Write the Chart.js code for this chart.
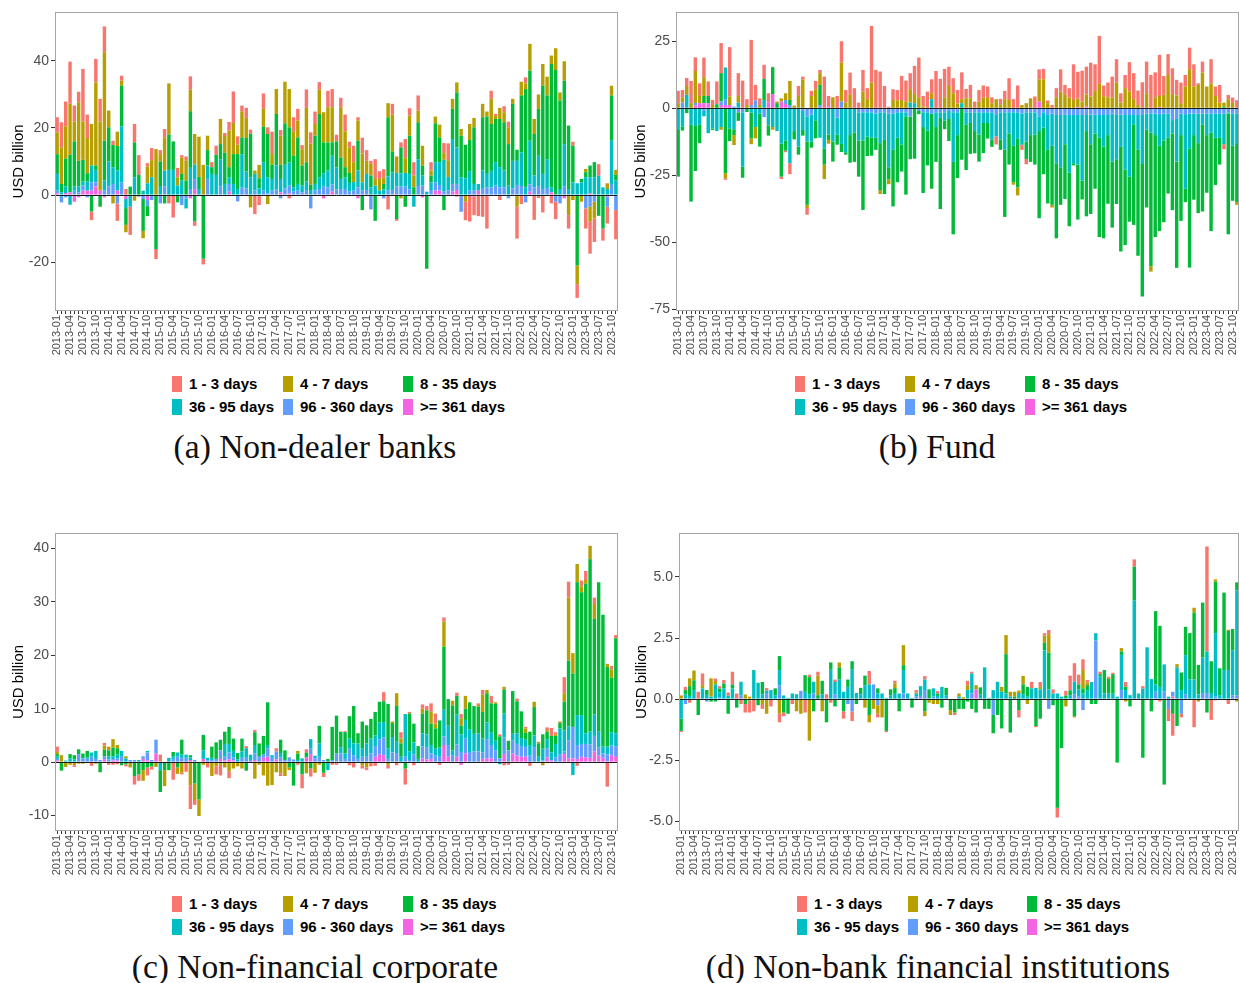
<!DOCTYPE html>
<html>
<head>
<meta charset="utf-8">
<script src="https://cdn.jsdelivr.net/npm/chart.js@4.4.1/dist/chart.umd.min.js"></script>
<style>
  html, body { margin: 0; padding: 0; background: #fff; }
  body { width: 1239px; height: 983px; position: relative; overflow: hidden; }
  canvas { position: absolute; }
  .lg { position: absolute; font: bold 15px "Liberation Sans", Arial, sans-serif; color: #000; white-space: nowrap; }
  .lg i { position: absolute; left: 0; top: 0; width: 10px; height: 16px; }
  .lg span { position: absolute; left: 17px; top: 0; line-height: 16px; }
  .cap { position: absolute; font: 33.5px "Liberation Serif", "DejaVu Serif", serif; color: #111; white-space: nowrap; transform: translateX(-50%); line-height: 36px; }
</style>
</head>
<body>
<canvas id="cA" width="620" height="365" style="left:0;top:0"></canvas>
<canvas id="cB" width="619" height="365" style="left:620px;top:0"></canvas>
<canvas id="cC" width="620" height="365" style="left:0;top:521px"></canvas>
<canvas id="cD" width="619" height="365" style="left:620px;top:521px"></canvas>

<div class="cap" style="left:315px;top:429px">(a) Non-dealer banks</div>
<div class="cap" style="left:937px;top:429px">(b) Fund</div>
<div class="cap" style="left:315px;top:949px">(c) Non-financial corporate</div>
<div class="cap" style="left:938px;top:949px">(d) Non-bank financial institutions</div>

<script>
// monthly categories 2013-01 .. 2023-11
const months = [];
for (let y = 2013; y <= 2023; y++) {
  for (let m = 1; m <= 12; m++) {
    if (y === 2023 && m > 11) break;
    months.push(y + '-' + String(m).padStart(2, '0'));
  }
}

const bucketNames = ['1 - 3 days', '4 - 7 days', '8 - 35 days', '36 - 95 days', '96 - 360 days', '>= 361 days'];
const bucketColors = ['#F8766D', '#B79F00', '#00BA38', '#00BFC4', '#619CFF', '#F564E3'];

// y tick values per panel
const bankTicks = [-20, 0, 20, 40];
const fundTicks = [-75, -50, -25, 0, 25];
const corpTicks = [-10, 0, 10, 20, 30, 40];
const nbfiTicks = [-5, -2.5, 0, 2.5, 5];

// ---- (a) Non-dealer banks, USD billion ----
const bank_1_3 = [
  4.5, 7.5, 7.4, 12.6, 4.8, 3.1, 15.7, 7, -2.6, 7,
  6.8, 7.7, 0, 1.3, -5.2, 1.5, 1.8, -8.4, 5.5, 5.9,
  0, 1, 3.6, -3, 1.2, 2.5, -2.5, -6.7, 2.8, .7,
  1.3, 4, -1.3, 0, -1.7, -.2, 1.5, 2.7, 0, .9,
  2.6, 9.4, 2.5, 1.7, 3, 1.2, -5.7, -3, 4.6, 2,
  6.7, 0, 1.7, 0, -1, 4.3, 3.5, 1.2, 5.5, 3.3,
  3.7, 2.3, 0, 4.9, 5.4, 2, 2.8, 5, 1.7, 4.9,
  1, 4.7, 3.2, .9, 5.9, 2.3, 2.4, -4.3, 3.2, -.5,
  1.5, 5.7, 2.2, 4, 4.5, 0, 0, 2.5, 0, 0,
  3, 5, 0, -.5, 0, -5.5, -7.9, -5.5, -6.3, -6.5,
  -10, 2.4, .6, -1.5, 1.8, 1.7, 0, -9.5, -2.7, 1.8,
  0, -7.4, -.9, -5.2, 0, -2.5, -5.2, 0, 0, -4,
  1.2, -4.1, 0, -6, -9.5, -7, 3.4, -3.6, -5, 0, -8.7
];
const bank_4_7 = [
  6.5, 10.9, 9.6, 15.2, 5.9, 17.5, 11.4, 10.5, 12.4, 24.8,
  20.6, 26.4, 5, -2.5, 4.3, 1.5, -2.2, 0, -1.7, 0,
  -2.2, 5, 5.1, 13.7, 2.2, 9.9, 15.3, 0, 2.5, 4.9,
  5.9, 6.4, 9.1, 12, 9, 4.3, 0, 0, 7.5, 5,
  10.9, 9.3, 2.8, 7.8, 6, -3.7, 1, 4, 5.3, -2.7,
  3.1, 7.4, 8.6, 12.4, 11.4, 7.2, 5, 4.9, 16.2, 12.3,
  3.5, 7.2, 9, 10.5, 10.5, 0, 15, 10.7, 7.6, 5.9,
  6, 8.6, 3.9, 3.5, 2, 3.5, 2, 4.2, 11, 4.9,
  -1, 4.4, 6, 3.5, 3.5, 5.9, 0, 1.5, 2, 3.8,
  2, 5, 3, 3, 2, -2, 4.8, 2.8, 0, 4,
  1.5, 7.5, .9, 3.3, 3, 5, 1.5, -3.5, 4.1, 1.7,
  8, 4.5, 4.3, 6.5, 5.6, 2.5, 6.5, 2.4, 5.8, -6,
  -1.5, -5.6, -2, 1, -4.5, -5, 0, 0, 1.7, 2.9, 1.5
];
const bank_8_35 = [
  5.9, 2.5, 8.3, 11.2, 13.5, 7.6, 6.5, 2.5, -4.9, 1.3,
  -3.5, 11.9, 10.2, 6.6, 7.3, 12.1, -5, 2.5, 10.4, 6,
  -9.5, -3, 0, -16.1, 7.3, -2.5, 10.5, 8.5, -2.2, 2,
  4.3, 16.9, -7.9, 3.6, -19, 4.6, 2, 6, 4.5, 9.3,
  3, 8.9, 10.4, 5, 10, 13, 0, 3, 10.6, 12.9,
  4.3, 15.4, 4.3, 12.4, 10.5, 9.4, 13.9, 6, 5.8, 1.6,
  14.4, 18.9, 9.2, 8.4, 4, 7.8, 6.4, 3, 3, 0,
  8.9, -4.5, 0, 3.5, -7.7, 0, 1.6, 17.6, 6.2, -7.2,
  7.7, -3.5, 11.4, 2.3, 11, 3, -22, 2, 11.6, 7.4,
  -4.5, 0, 9, 16.4, 12.4, 10, 9.3, 16.9, 0, 15.9,
  17.1, 14, 12.9, 14.4, 14.4, 12.4, 17, 3.3, 17, 29.3,
  20.9, 12.4, 14, 26.3, 19, 36.8, 37.3, 26.4, 18.9, 18.9,
  10.9, -21, 1, 1.5, 3.5, 4.5, -6.2, -10, 0, 13.5, 1.7
];
const bank_36_95 = [
  5, .8, 2, -2.9, 1.2, 1.8, 1.2, 2.7, 5, 3.7,
  0, 3, 7.5, 5, 6, 16.8, -2.7, -3.5, 5.3, 0,
  1.3, 3.5, 5.3, 0, 2.7, 4.7, 7.5, 7.5, 2.8, 4.3,
  -3, 6.3, 4.3, 1.8, 0, 4, 6.3, 6, 8.2, 3.3,
  2, 3.3, 1.8, 10, 5, 5.3, 5, 2, 8.5, 4.8,
  3.5, 7.2, 4, 7, 6.9, 1.3, 2, 2, 2.5, 1.5,
  2, 3.5, 4, 5, 8.6, 6.5, 3, 3.5, 2.6, 2.6,
  5, 2.5, 4.8, 2.3, 2.8, 1.3, 1.7, 4.3, 5.3, 4,
  4, 4.1, 4.6, -3.5, 8, 3, 1, 2.3, 6, 6.8,
  9.5, 4, 13.4, 10.9, 5.3, 5, 5.8, 2, 2, 5.2,
  4, 5, 7, 6, 5, 2.8, 8.2, 7.2, 10, 2.3,
  13, 3.5, 9, 4.5, 8.6, 1.5, 0, 1.8, 12.7, 1.8,
  3.8, 3.5, 3.8, 5.3, 4.8, 5.3, 5.8, 2.3, 1.8, 12.9, 4.3
];
const bank_96_360 = [
  .8, -2.2, -.7, 0, 1.3, .8, 1.5, -.7, 2.5, 1.2,
  0, 1.3, 2.5, 3.3, -2.5, 3.7, 0, 0, 0, -.5,
  -1.2, -1.8, -1.5, 0, -2.5, 2.6, 0, 0, 0, -3,
  -1, 1.8, 3, 0, 0, 4.8, 0, 0, 2.5, 0,
  2.3, 0, -1.9, 2.2, 2, 0, 1.3, 0, 1.3, .5,
  1.3, 1.6, -1, 2, 2.3, 1, 1.3, .8, 1.5, -4,
  1.3, 1.8, 2.5, 2.3, 2.1, 1.7, 1.8, 1.8, 1, 1.3,
  2.3, 1.3, 1.5, -4.3, 0, 0, -1, 1.3, 1.5, 2.6,
  2.5, 2.5, 1.7, 0, 2.7, 2.8, 0, 1.5, 2.5, 1.7,
  1, 1.4, 2.3, 1.8, -5, 0, 1.3, 1.3, 0, 2.1,
  2.3, 2.2, 2.8, 2.3, 2.3, -1, 2, 3, 2.7, -2.2,
  2.2, 2.3, 2.7, 1.8, 2.1, 0, -2, -2.5, 2.5, 0,
  0, 0, 0, -4, -3.5, -2, 0, 0, -3, 3.3, -4.5
];
const bank_361 = [
  .5, 0, .6, .8, -2, -.7, 1.3, 1.3, 1.3, 2.6,
  1.3, -.7, 0, 0, 1.3, 0, -1.2, 0, 0, 0,
  0, -1.5, 0, 0, 0, 0, 0, 0, 0, 0,
  0, -1, 1.8, 0, 0, 0, 0, 0, 0, 0,
  1, 0, 0, 0, 0, 0, 0, 0, 0, 0,
  0, 0, .8, 0, .5, 0, 0, 0, 0, 0,
  0, 0, -1, 0, 1, 0, 0, 0, 0, 0,
  -1, 0, 0, 0, 0, 0, 0, 0, 0, 0,
  0, 0, 0, 0, 0, -.7, 0, 0, 1.3, 1.3,
  0, 0, 1, 1.5, 0, 0, 0, -.5, 1.3, 0,
  0, 0, 0, 0, 0, 0, 0, 0, 0, 0,
  1, 0, 0, 0, 0, .8, 0, 0, -1, 0,
  0, 0, 0, 0, .5, 0, 0, 0, -.5, 0, 0
];

// ---- (b) Fund ----
const fund_1_3 = [
  4.6, 2.7, 3, 8.3, 5.1, 4.7, 7.3, 5.4, 1.9, 8.5,
  11.2, -.6, 18.4, 0, 8.5, 10.3, 2.2, 24.3, 5.7, 2.5,
  5.3, 3.5, .2, 0, -.9, -.6, -4.1, 0, 3.7, 1,
  -2.5, 1.9, 3.1, 1.2, 11.8, 3.8, 0, 4.6, 8, 4.7,
  8.3, 7.5, 2.1, 8.1, 4.1, 21.1, 14.3, 13.7, 8.3, .6,
  4, 3.9, 9, 7.8, 6, 10.5, 14.8, 3.9, 6.2, 5.2,
  13.9, 11, 10.6, 7.2, 5.6, 5, 10, 3.5, 5, 2.5,
  4.3, 4.6, 4, 2.2, -3, 2, 3.1, 8.1, 3.4, 8.5,
  -1.9, -2, 0, 4.4, 3.7, 3.9, 1, 1.2, 3.4, 8.3,
  3.7, 3.5, 13.3, 10, 11.5, 10.3, 12.6, 10, 17.9, 4,
  5.5, 7.7, 8.7, 3.5, 4.9, 11, 9.7, 5.4, 9.7, 11.8,
  12.4, 9.3, 15.3, 7, 7.8, 9.6, 5.8, 7.7, 4.3, 8,
  8.3, .6, 4.1, 0, 9, 3.5, 6.6, -1.9, 1.6, 2, 3
];
const fund_4_7 = [
  1.9, 2, 3.3, 1.9, 11.9, 2.7, 7, 0, 1.2, 0,
  -1, -1.9, 3.2, -3.7, 2.5, 0, 1.2, -2.2, -4.2, 1.2,
  0, 0, -1, .6, 1.2, 2.5, 7.1, 1, 4.6, 10.8,
  -1.2, 4.6, 7.1, 4.4, -5.4, -1.4, 4.1, 0, 14.5, 2.1,
  5, 0, 0, 6.2, 3.4, 9.6, 0, -1.5, 0, -1.8,
  3.1, 2.9, 3.1, 2.5, 5, 3.4, 4.1, .7, 0, 2.2,
  0, 0, 4.1, 8.3, 5.6, 1.8, 1.5, 3.7, 3.7, 0,
  2.5, 3.9, 4.1, 1.9, 3.4, 1.5, 3.4, 3.1, -.9, -3,
  1.2, 1.9, 3.7, 0, 8.3, 10.8, 1.9, -1, 4.1, 6.2,
  5, 4, 3.1, 3.1, 2.5, 4.6, 4.4, 6.4, 9.1, 4.5,
  4.1, 4.1, 9.6, 2.1, 7.5, 6.2, 3.4, 1.2, 0, 5.6,
  -2, 4.1, 4.1, 5, 12.4, 5.3, 4.8, 1.9, 8.1, 14.6,
  8.1, 8.7, 13.3, 8.1, 9.3, 4.6, 2.1, 1.5, 3.4, 2, -1
];
const fund_8_35 = [
  -17.4, -1.5, -1.8, -28.6, -16.8, -7, 2.7, 2.7, -.6, 1.5,
  10.6, -24.2, -4.7, -2.2, -3.2, -4.1, -1.4, -9.6, 0, -12.3,
  7.8, -3.8, 10, 1.9, -12.3, -3.8, 1.9, -3.1, -3, -2.1,
  -23.6, -2.2, -6.7, 7.5, -6, -2, -7.5, -3.7, -3, -.9,
  -10.3, -11, -13.5, -25.9, -7.3, -6.7, -4.5, -17.5, -20.2, -4.5,
  -21.1, -16.6, -10.1, -29.2, -15.9, -18.8, -1.2, -24.6, -13, -28,
  -13, -34, -3.3, -8.2, -27, -16, -19.2, -16.8, -11.5, -8.3,
  -10.1, -11.2, -5.8, -2.8, 0, -3.9, -25.1, -11.6, -13.6, -18.1,
  0, -6.4, -10, -11.2, -32.5, -17.4, -20, -22, -28, -14,
  -20.4, -20, -.8, -20.5, -7, -31.8, -26, -20.6, -37, -34.2,
  -25.6, -24.6, -16.7, -39, -28.1, -16.8, -37.5, -39.5, -49.4, -29,
  -49.9, -38, -31.8, -30.5, -20.8, -28.6, -39.6, -32, -5, -44.4,
  -24.1, -26.1, -32.5, -21.5, -36.8, -17.6, -10, .6, -45, -20.5, -22
];
const fund_36_95 = [
  -8.1, -6.8, 5, -6.2, -6.6, -6, -2, -9.3, -7.5, -8.5,
  -7, 11.8, -7.5, -7.8, 2.1, -20.3, 0, -1.6, -7, -2,
  3.1, -6.4, -7, -8.5, -13.2, -12, -20.5, -8.5, -14.3, -7.1,
  -9.4, -10.2, -4.5, -11, -15, -9.8, -12.4, -6.4, -13.3, -16.4,
  -10, -9, -10.5, -10.5, -9, -9.5, -9, -11.5, -10.3, -20,
  -13.5, -9.5, -12, -1.5, 2.1, 1.9, 0, -5.5, -6.8, 3.4,
  -5.5, -2.1, -3, -3, -18.5, -8.5, 1.9, -4.7, -4, -7,
  -8.3, -4, -4, -10.1, -8, -10.1, -13.9, -7.9, -12.5, -9.9,
  -11.6, -11, -8.5, -8.3, -5.5, -5.7, -13, -12, -18, -19.5,
  -11, -21.5, -18, -18.5, -24.5, -6, -11, -7, -8.5, -11.8,
  -7.5, -17.9, -16.5, -12, -20.4, -23, -3.5, -13, -18.3, -6,
  -7, -8, -11.5, -10, -9, -5, -15.9, -8, -27.5, -13,
  -8, -11, -4, -8, -7, -9, -9, -11.4, -.5, -12, -11
];
const fund_96_360 = [
  0, 2.1, 0, 0, 1, 0, -1, 0, 0, 0,
  1.3, 2.2, 0, .6, -1.5, -1.5, 0, 1.2, 3, 0,
  -3.3, 0, 0, 0, 0, 1.5, 1.2, 0, 0, -1,
  -3, -2.3, 0, 1.2, 0, 0, 0, -3.5, 2.5, 0,
  0, 0, -1.5, -1.5, -1.5, -1.5, -2, -1.5, -1.5, -2,
  -2, -1.5, -1.5, -1.5, -3.1, 0, -1, -1.5, -1.5, -2,
  -1.5, -1.5, -1.5, -1, -1.5, -1.5, 0, -1.5, -1.5, -1.5,
  -1.5, -1.5, -1.5, -1.5, -2.5, -1.5, -1.5, -1.5, -1.5, -1.5,
  -2, -1.5, -1.5, -1.5, -3, -1.5, -2.5, -2, -2.5, -2.5,
  -2.4, -2.5, -2.5, -2.5, -2.5, -2.5, -2.4, -2.4, -2.5, -2.5,
  -2.5, -2, -2.5, -2.4, -2.5, -2.5, -2.5, -2.5, -2.5, -2,
  -2, -2, -2.5, -2, -2, -4.4, -4, -2, -2.5, -2,
  -2, -2, -2, -2, -2, -2, -2, -2, -1.5, -2, -2
];
const fund_361 = [
  0, 0, 0, 0, 1, 1.9, 1.9, 1.9, 0, 0,
  1.2, 1.2, 1.2, 0, 0, 0, 0, 0, 0, 0,
  0, 2.1, 5.3, 0, 2.5, 1.6, 0, 0, 0, 0,
  0, 0, 0, 0, 0, .8, 0, 0, 0, 0,
  0, 0, 0, 0, 0, 0, 0, 0, 0, 0,
  0, 0, 0, 0, 0, 0, 0, 0, 0, 0,
  0, 0, 0, 0, 0, 0, 0, 0, 0, 0,
  0, 0, 0, 0, 0, 0, 0, 0, 0, 0,
  0, 0, 0, 0, 2.5, 0, 0, 0, 0, 0,
  0, 0, 0, .5, 0, .6, 0, 0, 0, 0,
  0, 0, 0, 0, 0, 0, 0, 0, 0, 0,
  0, 0, .5, 0, 0, 0, 0, 0, 0, 0,
  0, 0, 0, 0, 0, 0, 0, 0, 0, 0, 0
];

// ---- (c) Non-financial corporate ----
const corp_1_3 = [
  1, 0, 0, 0, -.3, 0, 0, 0, -.7, 0,
  0, .5, -.5, -.5, -.4, 0, -.4, 0, -1.6, -1.2,
  0, -1.5, -.6, 0, 1.4, 0, 0, -3.3, 0, -.3,
  -1.8, -4.5, -.9, 0, 0, -1, 0, -1.5, -2, 0,
  -1.2, 0, 0, 0, .4, 0, .4, 0, 0, 0,
  0, .6, -.5, 0, 0, 0, -.5, -2.6, .6, -1.5,
  0, 0, -.8, 0, -.5, -.5, 0, .2, -.6, -1,
  0, -.6, -.5, -.8, -.7, 0, 1.7, -.7, 0, -.6,
  1.2, -3, .3, -.6, 0, .8, .8, 1.6, 1.9, -.5,
  .8, 0, 0, .6, .8, 0, 0, 0, .3, .8,
  0, 1.4, 0, .4, -.6, -.5, 0, .5, 0, .3,
  -.7, 0, 0, 0, .5, 1.5, .4, 0, 3, 3,
  0, -.7, 1.1, 1.7, 0, 1.2, 0, 0, -4.6, .7, .6
];
const corp_4_7 = [
  .4, 1.3, -.9, -.5, -.6, -.3, -.3, 0, 0, -.3,
  0, .8, .7, 1.6, .6, 0, .4, -1, 0, 0,
  -2, 0, 0, -.9, 0, -3, 0, 0, -1.2, -2,
  0, -4.3, -3.1, -3.1, -.5, 0, -2.6, -.8, -.5, -1,
  -1.8, -1.2, -.8, -1.2, 0, 0, -3.1, -.5, -2.5, -4.4,
  -4.3, -1.9, -2.1, -2.6, -.5, 0, .5, 0, -2.1, 0,
  -2, -.5, 0, 0, 0, 0, 0, 0, 0, 0,
  0, -.6, -1, 0, 0, 0, 0, -.5, .3, 2.4,
  .9, 0, 0, 0, 0, .9, 0, 2.2, .9, 0,
  4.7, 0, .9, 0, 1.4, 2.4, 0, 0, .3, 3.3,
  .6, 0, .3, 0, .5, 0, 0, 0, 0, .8,
  0, 1, .3, -.6, .3, 0, .3, .3, 1.6, 11.8,
  3.8, 3.4, 1.1, .7, 2.5, 2.8, 0, 0, .6, 1.5, 0
];
const corp_8_35 = [
  .4, -1.6, 0, .8, .8, .9, .9, 1.2, 0, 0,
  -1.9, 1.2, 1.1, 1.6, 1.2, -.6, -.4, 0, -2.6, -2.3,
  -1.5, -1, -.8, 0, -4.1, -1.5, -1.5, .8, -1, 2.8,
  0, .4, -4, -7, 2.9, 0, 2.1, 3.1, 2, 2.3,
  3.2, 2.3, 1.2, 2.4, -1.6, 0, 2.4, 2.5, 3.4, 8,
  0, 0, 2.5, 1.8, -1, -4.4, 1.2, -2.3, .9, -1.2,
  0, 3.3, -2, .6, 6.2, 7.1, 2.9, 4, 4.2, 7,
  1.9, 5.1, 3.4, 3.7, 4.4, 3.9, 3.9, 8.3, 2.6, 6.7,
  2.5, -1.2, 7.1, 3.5, 2.4, 3.7, 4.5, 4, 3.8, 5.1,
  11.8, 5, 8.4, 3.5, 1.6, 2.1, 5.1, 5.2, 5, 5,
  5.5, 5.5, 6.9, 4.1, 4.5, 1.8, 8, 6, 5, 1.3,
  2.5, 5.3, 2.5, 2.7, 1.4, 3.1, 1.5, 1, 5.4, 12.3,
  10, 24.9, 23, 28, 32.3, 17.9, 28, 24.7, 14.9, 10.2, 17.8
];
const corp_36_95 = [
  .5, 0, .3, .7, .5, 0, 0, .3, .8, 1.5,
  0, 0, .6, .5, .7, 1.1, .7, 0, 0, .4,
  0, .3, 0, 0, -1.5, 0, .8, .5, .8, .6,
  .6, .5, 0, 0, 1.6, .5, .4, 0, 0, 2.4,
  1.6, 1.2, .5, 1.2, 1.8, 1, 1.6, 0, 0, .6,
  .5, 0, .8, 0, 0, 0, .4, .7, 0, 1.8,
  .5, 2.5, 0, -1.5, 0, 0, 1.2, 1, 1.9, 2.2,
  2.9, 1.5, 2.5, 2.8, 2, 3.1, 2.9, 2, 2.9, 2.1,
  1, 8, 1.6, 2.3, .6, 2.5, 2.5, 1.6, 1.3, 1.7,
  5, 3.6, .9, 5.6, 3.3, 3.5, 4.2, 3.3, 3.4, 2.6,
  3.1, 2.3, 1.8, -.4, 4.5, 0, 1.3, 2, 1.5, 1.4,
  2, 2.2, 1, 2.2, 1.7, 1.5, 2.5, 4.8, 3.9, 2.6,
  -2.4, 5.6, 5.4, 2, 2.4, 4, 3, 1.3, 1.5, 2.5, 2.5
];
const corp_96_360 = [
  .3, 0, 0, 0, 0, 1.5, .7, .6, 1, .6,
  .4, .6, .5, .3, .4, 1, 0, .4, .4, 0,
  .5, 1.5, .4, 2.6, 0, 0, 0, .6, 1, .8,
  .8, 0, .4, 0, 0, .3, .4, .6, 1.6, .7,
  1.3, .6, 0, .8, .8, .4, 1.2, 1, .7, 1.6,
  .8, 1.5, .9, .4, .9, .5, 0, 0, 0, 1,
  .7, 1, .4, 0, .4, 1.6, 1.6, .5, 2.5, 1.3,
  .6, 1, 1, 1.6, 2, 2.8, 3.3, .6, 1.8, 1.7,
  0, 1, .4, 1.4, 0, 2.2, 2.2, 1, 1.2, 1,
  1.6, 2.2, 1.3, 2.3, 1.9, 2.8, 1.9, 2, 2, 1.2,
  3.6, 2.5, 2.2, .7, 3.1, 2.2, 2.4, 2.2, 2, 1.8,
  1.2, 2.8, 0, .3, 1.7, 0, .9, 1.5, .5, 3.4,
  5.9, 2.6, 2.4, 2.5, 2.5, 2.9, 1.5, .8, 1.2, 1.8, 1.9
];
const corp_361 = [
  .3, 0, 0, 0, 0, 0, 0, 0, 0, 0,
  0, .5, 0, .3, .3, 0, 0, 0, 0, 0,
  .6, .3, 0, 1.6, 0, 0, 0, 0, 0, 0,
  0, .4, 0, 0, .6, 0, 0, 0, .6, .3,
  .5, .3, 0, 0, 0, 0, .4, 0, .8, 1,
  0, .5, 0, 0, 0, 0, 0, 0, .9, 1.5,
  0, 0, 0, 0, 0, 0, 0, .1, 0, 0,
  0, 0, 0, 0, 1, 1.5, 1.3, 0, 0, 0,
  0, 0, 0, 0, 0, .7, .5, .6, 0, 0,
  3.2, 1, 0, 1, -.5, 1.6, 0, 0, 0, .6,
  .7, .7, 0, 0, 1.5, 0, 1.6, 1.2, 1, 1,
  0, 0, 0, 0, .9, .3, 0, 0, 1.5, .7,
  .7, .6, 1, .9, .8, 2, 1.2, .8, .2, 1.3, 1
];

// ---- (d) Non-bank financial institutions ----
const nbfi_1_3 = [
  -.05, .13, -.15, 0, .3, .48, 0, 0, .1, .1,
  .14, .13, .52, .23, -.2, -.35, -.5, -.5, 0, -.2,
  .1, -.3, 0, -.35, -.15, 0, -.2, 0, 0, -.55,
  .1, 0, .16, 0, .2, -.15, .1, 0, -.3, 0,
  -.4, 0, 0, 0, .55, 0, -.15, 0, -.05, 0,
  .1, 0, 0, 0, 0, .1, 0, .14, 0, 0,
  .1, 0, 0, 0, -.1, 0, 0, .18, .07, 0,
  0, 0, 0, 0, 0, 0, 0, 0, 0, -.3,
  0, 0, .27, -.05, .2, .1, .17, .17, -.4, 0,
  .2, .6, .75, .4, .44, .11, 0, 0, .1, 0,
  .05, .06, 0, 0, .2, 0, .3, 0, .1, 0,
  0, 0, -.1, 0, -.5, -.9, 0, -.15, 0, 0,
  -1.15, 0, 0, 4.3, -.85, -.05, 0, 0, -.2, 0, 0
];
const nbfi_4_7 = [
  .15, 0, .32, .4, 0, .13, 0, .75, .14, 0,
  0, 0, 0, 0, 0, .19, .1, 0, 0, -.2,
  -.6, 0, 0, -.6, 0, 0, 0, -.5, -.6, 0,
  -1.7, 0, .8, -.5, 0, 0, 0, .2, 0, 0,
  0, 0, 0, -.35, -.3, -.4, -.35, -.75, 0, 0,
  .2, 0, .82, 0, 0, .05, 0, -.2, -.15, -.2,
  -.2, 0, 0, -.2, 0, .13, .08, .2, 0, .17,
  0, 0, 0, 0, 0, .2, .78, .2, .2, .1,
  .35, -.2, 0, 0, .1, .3, .76, 0, 0, 0,
  -.3, 0, -.05, 0, .75, .1, 0, 0, 0, 0,
  .05, 0, 0, .14, -.1, 0, 0, 0, 0, 0,
  0, 0, 0, 0, 0, 0, .13, 0, 0, 0,
  .2, -.1, 0, 0, 0, .1, 0, 0, .05, 0, -.1
];
const nbfi_8_35 = [
  -.5, .17, .4, .4, -.65, 0, .2, -.1, -.1, .15,
  .2, -.6, .16, -.35, 0, -.2, -.05, 0, -.25, .5,
  0, 0, .28, .57, -.55, -.6, 0, 0, 0, .68,
  .7, -.5, .16, .55, -.95, .3, -.3, .5, -.5, .3,
  .35, -.2, .26, .39, -.65, 0, .2, 0, -1.3, .24,
  .2, -.5, .2, 0, -.35, 0, 0, -.5, .37, 0,
  .1, -.35, .3, -.45, -.55, -.4, -.4, -.1, -.4, -.55,
  .3, -.4, -.4, -.75, -.65, -1.2, 1.61, -1.37, .1, -.45,
  .4, .4, 0, -1.1, -.8, .3, 1.5, -.25, -4.45, -2,
  .1, .2, -.7, .2, .2, .2, -.2, -.2, .1, .96,
  .6, .8, -2.6, .14, .13, -.3, 1.39, 0, -2.4, 0,
  -.5, 3, 2.5, -3.5, 0, -.6, -1.1, .72, 1.16, 1.9,
  2.74, 1.2, 2.25, -.55, 1.3, 2.1, 1.1, 3.17, 1.6, .87, .33
];
const nbfi_36_95 = [
  -.8, .2, .13, .37, 0, .44, .17, .1, .6, .2,
  .44, .14, .44, 0, .55, 0, 0, 1.19, .67, .2,
  .1, .37, .16, .62, .15, .05, .23, .2, 0, .3,
  .2, .48, 0, .2, 0, 1.2, .5, .8, .3, .5,
  1.2, .25, .2, .57, .6, 0, .24, .23, .05, .16,
  .25, .23, .96, .23, .05, .12, .4, .43, .03, .34,
  .13, .5, .16, 0, 0, .1, 0, .37, .82, 0,
  .18, 1.3, .05, .37, .71, .3, .23, .1, 0, .25,
  .2, .1, .44, .46, .4, 2, .4, .23, .23, .1,
  .04, .16, .52, .3, .24, .37, .7, .3, .92, .23,
  .22, .22, .1, 1.44, .37, .16, 4.03, .23, .43, 2.12,
  .82, .3, .5, 1.1, .1, 0, 1.3, .37, 1.6, .8,
  .8, .2, 1.45, 1.7, .25, 2.6, .16, 1.19, 1.19, 1.85, 4.3
];
const nbfi_96_360 = [
  0, -.2, 0, 0, 0, 0, -.1, 0, 0, .08,
  0, 0, 0, 0, .16, 0, 0, 0, 0, 0,
  .25, 0, 0, .57, 0, 0, 0, 0, .34, 0,
  0, .23, 0, 0, 0, 0, .2, 0, 0, -.2,
  -.5, 0, 0, 0, 0, .6, -.25, 0, 0, 0,
  0, 0, .23, 0, 0, .1, .13, .37, 0, .1,
  0, 0, 0, 0, 0, 0, 0, 0, .23, 0,
  0, 0, 0, -.65, 0, 0, 0, 0, 0, 0,
  0, 0, 0, 0, 0, 0, -.4, 0, 0, 0,
  0, 0, .2, .1, -.45, 0, 0, 2.4, 0, 0,
  0, 0, 0, .37, 0, 0, 0, 0, 0, 0,
  0, .3, 0, .32, -.4, .2, 0, -.6, .2, 0,
  0, 0, .25, .25, 0, .1, 0, 0, 0, .15, .15
];
const nbfi_361 = [
  0, 0, 0, 0, 0, 0, 0, 0, 0, 0,
  0, 0, 0, 0, 0, 0, 0, 0, 0, 0,
  0, 0, 0, 0, 0, 0, 0, 0, 0, 0,
  0, 0, 0, 0, 0, 0, 0, 0, 0, 0,
  0, 0, 0, 0, 0, 0, 0, 0, 0, 0,
  0, 0, 0, 0, 0, 0, 0, 0, 0, 0,
  0, 0, 0, 0, 0, 0, 0, 0, 0, .4,
  0, 0, 0, 0, 0, 0, 0, 0, 0, 0,
  0, 0, 0, 0, 0, 0, 0, 0, 0, 0,
  0, 0, 0, 0, 0, 0, 0, 0, 0, 0,
  0, 0, 0, 0, 0, 0, 0, 0, 0, 0,
  0, 0, 0, 0, 0, .1, 0, 0, 0, 0,
  0, 0, 0, 0, 0, 0, 0, 0, 0, 0, 0
];

Chart.defaults.font.family = "'Liberation Sans', Arial, sans-serif";
Chart.defaults.color = '#4d4d4d';

// zero line on top of the bars and a grey box round the panel
const panelFrame = {
  id: 'panelFrame',
  afterDatasetsDraw(chart) {
    const { ctx, chartArea: a } = chart;
    const y0 = Math.round(chart.scales.y.getPixelForValue(0)) + 0.5;
    ctx.save();
    ctx.strokeStyle = '#1a1a1a';
    ctx.lineWidth = 1;
    ctx.beginPath();
    ctx.moveTo(a.left, y0);
    ctx.lineTo(a.right, y0);
    ctx.stroke();
    ctx.strokeStyle = '#a6a6a6';
    ctx.strokeRect(a.left + 0.5, a.top + 0.5, a.width - 1, a.height - 1);
    ctx.restore();
  }
};

function buildPanel(p) {
  const datasets = p.series.map((vals, k) => ({
    label: bucketNames[k],
    data: vals,
    backgroundColor: bucketColors[k],
    borderWidth: 0,
    barPercentage: 0.8,
    categoryPercentage: 1
  })).reverse(); // longest maturity sits next to zero

  return new Chart(document.getElementById(p.id), {
    type: 'bar',
    data: { labels: months, datasets },
    options: {
      responsive: false,
      animation: false,
      devicePixelRatio: 1,
      layout: { padding: { top: 12, right: p.padR, left: 0, bottom: 0 } },
      plugins: { legend: { display: false }, tooltip: { enabled: false } },
      scales: {
        x: {
          stacked: true,
          afterFit(s) {
            s.height = p.xH;
            // rotated labels would otherwise push the plot edges inwards
            s.paddingLeft = 0;
            s.paddingRight = 0;
          },
          border: { display: false },
          grid: { drawOnChartArea: false, offset: false, tickLength: 3, color: '#333' },
          ticks: {
            autoSkip: false, maxRotation: 90, minRotation: 90, padding: 1,
            color: '#4d4d4d', font: { size: 11 },
            callback: (v, i) => (i % 3 === 0 ? months[i] : '')
          }
        },
        y: {
          stacked: true,
          min: p.min,
          max: p.max,
          afterFit(s) {
            s.width = p.yW;
            s.paddingTop = 0;
            s.paddingBottom = 0;
          },
          afterBuildTicks(s) { s.ticks = p.ticks.map(v => ({ value: v })); },
          border: { display: false },
          grid: { drawOnChartArea: false, tickLength: 4, color: '#333' },
          ticks: {
            padding: 2, color: '#4d4d4d', font: { size: 14 },
            callback: v => v.toFixed(p.dec)
          },
          title: {
            display: true, text: 'USD billion', color: '#000',
            font: { size: 15 }, padding: { top: p.titlePad, bottom: 0 }
          }
        }
      }
    },
    plugins: [panelFrame]
  });
}

buildPanel({ id: 'cA', series: [bank_1_3, bank_4_7, bank_8_35, bank_36_95, bank_96_360, bank_361],
  min: -34.6, max: 54.6, ticks: bankTicks, dec: 0, yW: 55, padR: 2, xH: 54, titlePad: 9.6 });
buildPanel({ id: 'cB', series: [fund_1_3, fund_4_7, fund_8_35, fund_36_95, fund_96_360, fund_361],
  min: -75.6, max: 35.9, ticks: fundTicks, dec: 0, yW: 56, padR: 0, xH: 54, titlePad: 11.6 });
buildPanel({ id: 'cC', series: [corp_1_3, corp_4_7, corp_8_35, corp_36_95, corp_96_360, corp_361],
  min: -12.9, max: 42.9, ticks: corpTicks, dec: 0, yW: 55, padR: 2, xH: 55, titlePad: 9.6 });
buildPanel({ id: 'cD', series: [nbfi_1_3, nbfi_4_7, nbfi_8_35, nbfi_36_95, nbfi_96_360, nbfi_361],
  min: -5.4, max: 6.8, ticks: nbfiTicks, dec: 1, yW: 59, padR: 0, xH: 55, titlePad: 12.6 });

// legends: three columns, two rows
function addLegend(left, top, colX) {
  bucketNames.forEach((name, k) => {
    const item = document.createElement('div');
    item.className = 'lg';
    item.style.left = (left + colX[k % 3]) + 'px';
    item.style.top = (top + (k < 3 ? 0 : 23)) + 'px';
    const key = document.createElement('i');
    key.style.background = bucketColors[k];
    const txt = document.createElement('span');
    txt.textContent = name;
    item.appendChild(key);
    item.appendChild(txt);
    document.body.appendChild(item);
  });
}
addLegend(172, 376, [0, 111, 231]);
addLegend(795, 376, [0, 110, 230]);
addLegend(172, 896, [0, 111, 231]);
addLegend(797, 896, [0, 111, 230]);
</script>
</body>
</html>
